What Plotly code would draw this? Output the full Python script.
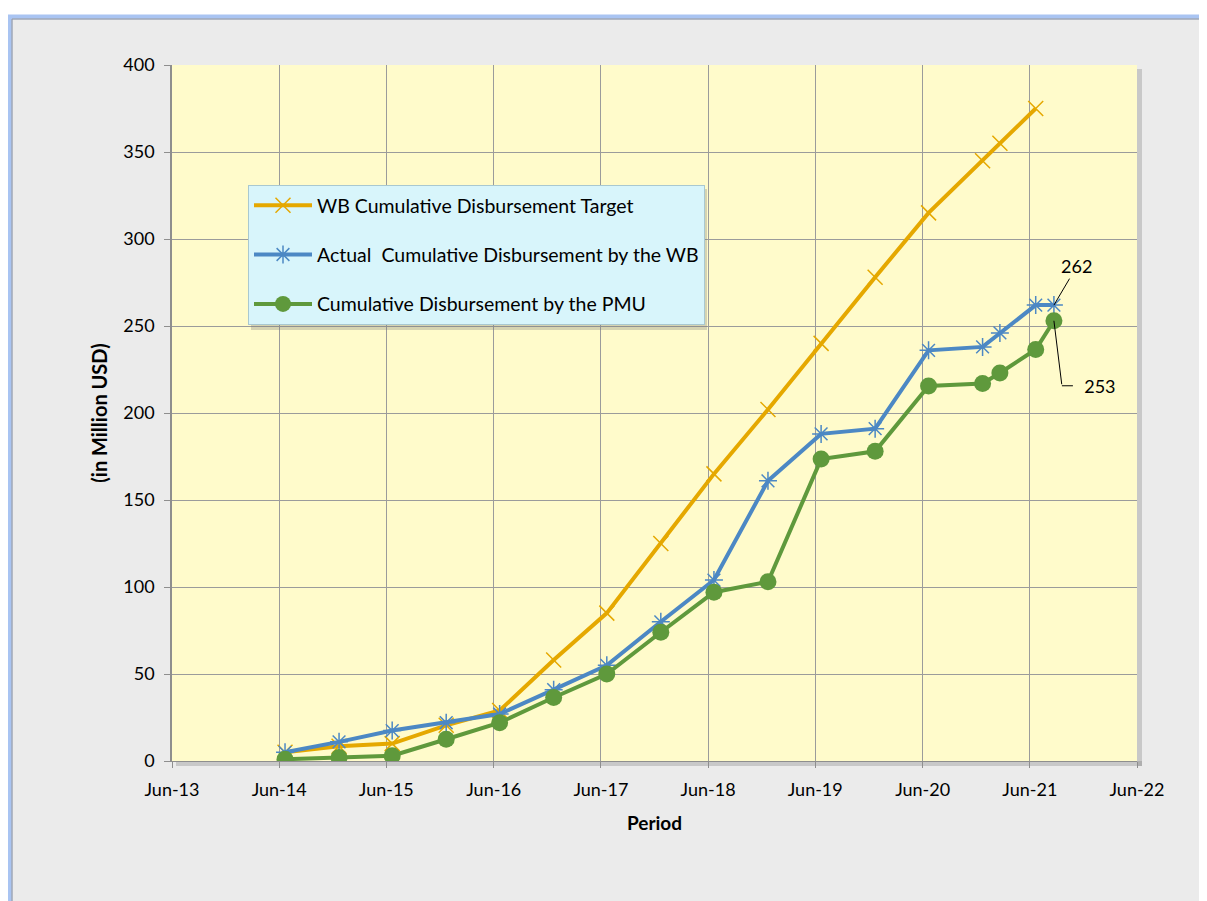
import plotly.graph_objects as go

# ---------------- data ----------------
dates = ["2014-06-30", "2014-12-31", "2015-06-30", "2015-12-31", "2016-06-30",
         "2016-12-31", "2017-06-30", "2017-12-31", "2018-06-30", "2018-12-31",
         "2019-06-30", "2019-12-31", "2020-06-30", "2020-12-31", "2021-02-28",
         "2021-06-30", "2021-08-31"]
target_dates = dates[:16]
wb_target = [5, 8.5, 10, 20.5, 29, 58, 85, 125, 165, 202, 240, 278, 315, 345, 355, 375]
wb_actual = [5, 11, 17.5, 22, 27, 41, 55, 80, 104, 161, 188, 191, 236, 238, 246, 262, 262]
pmu = [1, 2, 3, 12.5, 22, 36.5, 50, 74, 97, 103, 173.5, 178, 215.5, 217, 223, 236.5, 253]

names = ["WB Cumulative Disbursement Target",
         "Actual  Cumulative Disbursement by the WB",
         "Cumulative Disbursement by the PMU"]
label_262 = "262"
label_253 = "253"

ORANGE = "#E5A800"
BLUE = "#4C88C4"
GREEN = "#5F993C"
FONT = "Lato"

fig = go.Figure()
fig.add_trace(go.Scatter(
    x=target_dates, y=wb_target, name=names[0], mode="lines+markers",
    line=dict(color=ORANGE, width=4),
    marker=dict(symbol="x-thin", size=15, color=ORANGE, line=dict(color=ORANGE, width=1.5)),
    legendgroup="a"))
fig.add_trace(go.Scatter(
    x=dates, y=wb_actual, name=names[1], mode="lines+markers",
    line=dict(color=BLUE, width=4),
    marker=dict(symbol="asterisk", size=15, color=BLUE, line=dict(color=BLUE, width=1.5)),
    legendgroup="b"))
fig.add_trace(go.Scatter(
    x=dates, y=pmu, name=names[2], mode="lines+markers",
    line=dict(color=GREEN, width=4),
    marker=dict(symbol="circle", size=17, color=GREEN),
    legendgroup="c"))

# page body has an 8px margin; everything below is in screen pixels
OFF = 8
W, H = 1207 - OFF, 901 - OFF
L, T = 172 - OFF, 65 - OFF
pw, ph = 965, 696
R, B = W - L - pw, H - T - ph

def px_x(p):  # screen pixel -> paper x
    return (p - OFF - L) / pw

def px_y(p):  # screen pixel -> paper y
    return (T + ph - (p - OFF)) / ph

shapes = [
    # white margin on top and left of the panel
    dict(type="rect", xref="paper", yref="paper", x0=px_x(0), x1=px_x(1300), y0=px_y(0), y1=px_y(15),
         fillcolor="white", line=dict(width=0), layer="below"),
    dict(type="rect", xref="paper", yref="paper", x0=px_x(0), x1=px_x(9), y0=px_y(0), y1=px_y(1000),
         fillcolor="white", line=dict(width=0), layer="below"),
    # blue glow
    dict(type="rect", xref="paper", yref="paper", x0=px_x(10), x1=px_x(1300), y0=px_y(17), y1=px_y(1000),
         fillcolor="rgba(0,0,0,0)", line=dict(color="#A9C4F2", width=5), layer="below"),
    dict(type="rect", xref="paper", yref="paper", x0=px_x(12), x1=px_x(1300), y0=px_y(19), y1=px_y(1000),
         fillcolor="rgba(0,0,0,0)", line=dict(color="#9A9A9A", width=1), layer="below"),
    # plot area shadow
    dict(type="rect", xref="paper", yref="paper", x0=px_x(176), x1=px_x(1142), y0=px_y(766), y1=px_y(761),
         fillcolor="rgba(120,120,120,0.3)", line=dict(width=0), layer="below"),
    dict(type="rect", xref="paper", yref="paper", x0=px_x(1137), x1=px_x(1142), y0=px_y(766), y1=px_y(69),
         fillcolor="rgba(120,120,120,0.3)", line=dict(width=0), layer="below"),
    # legend shadow
    dict(type="rect", xref="paper", yref="paper", x0=px_x(251), x1=px_x(707), y0=px_y(330), y1=px_y(189),
         fillcolor="rgba(120,120,120,0.3)", line=dict(width=0), layer="above"),
]

annotations = [
    dict(x=dates[-1], y=wb_actual[-1], text=label_262, showarrow=True, arrowhead=0,
         arrowwidth=1, arrowcolor="black", ax=23, ay=-39, font=dict(size=18, color="black", family=FONT)),
    dict(x=dates[-1], y=pmu[-1], text="", showarrow=True, arrowhead=0,
         arrowwidth=1, arrowcolor="black", ax=8, ay=65),
    dict(x=dates[-1], y=pmu[-1], text="\u00a0\u00a0" + label_253, showarrow=True, arrowhead=0,
         arrowwidth=1, arrowcolor="black", ax=11, ay=0, xshift=8, yshift=-65,
         xanchor="left", font=dict(size=18, color="black", family=FONT)),
]

fig.update_layout(
    width=W, height=H,
    margin=dict(l=L, r=R, t=T, b=B),
    paper_bgcolor="#EBEBEB",
    plot_bgcolor="#FFFBCB",
    font=dict(family=FONT, size=18, color="black"),
    showlegend=True,
    legend=dict(
        x=px_x(248), y=px_y(185), xanchor="left", yanchor="top",
        bgcolor="#D8F5FB", bordercolor="#A9C8D0", borderwidth=1,
        font=dict(family=FONT, size=19.5, color="black"),
        traceorder="grouped", tracegroupgap=21, itemwidth=58,
    ),
    xaxis=dict(
        type="date", range=["2013-06-10", "2022-06-10"], tick0="2013-06-10", dtick="M12",
        tickformat="%b-%y", showgrid=True, gridcolor="#9B9B9B", gridwidth=1.2,
        showline=True, linecolor="#8E8E8E", linewidth=1, ticks="outside", ticklen=6,
        tickcolor="#8E8E8E", tickfont=dict(size=18), ticklabelstandoff=6,
        title=dict(text="<b>Period</b>", font=dict(size=19), standoff=18),
        zeroline=False,
    ),
    yaxis=dict(
        range=[0, 400], dtick=50, showgrid=True, gridcolor="#9B9B9B", gridwidth=1.2,
        showline=True, linecolor="#8E8E8E", linewidth=1.5, ticks="outside", ticklen=6,
        tickcolor="#8E8E8E", tickfont=dict(size=18), ticklabelstandoff=6,
        title=dict(text="<b>(in Million USD)</b>", font=dict(size=20), standoff=10),
        zeroline=False,
    ),
    shapes=shapes,
    annotations=annotations,
)

fig.write_html("out.html")
